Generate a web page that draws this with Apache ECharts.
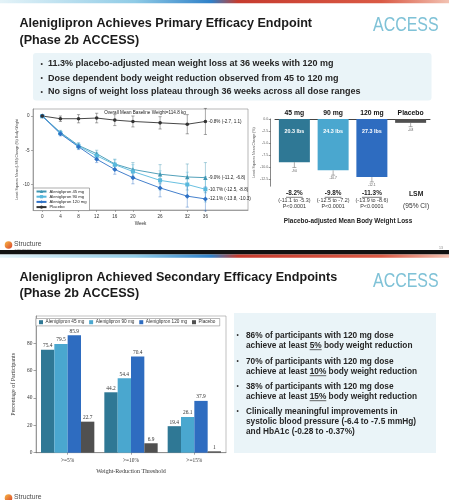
<!DOCTYPE html>
<html>
<head>
<meta charset="utf-8">
<script src="https://cdn.jsdelivr.net/npm/echarts@6/dist/echarts.min.js"></script>
<style>
  html, body { margin: 0; padding: 0; background: #fff; }
  #chart { width: 449px; height: 500px; }
</style>
</head>
<body>
<div id="chart"></div>
<script>
// slide 1, left: LSM % change in body weight over time
const weeks = [0, 4, 8, 12, 16, 20, 26, 32, 36];
const weekTicks = [0, 4, 8, 12, 16, 20, 26, 32, 36];
const doseNames = ['Aleniglipron 45 mg', 'Aleniglipron 90 mg', 'Aleniglipron 120 mg', 'Placebo'];
const change45 = [0, -2.4, -4.3, -5.5, -7.0, -7.8, -8.5, -8.9, -9.0];
const change90 = [0, -2.5, -4.4, -5.8, -7.1, -8.1, -9.4, -10.0, -10.7];
const change120 = [0, -2.6, -4.5, -6.3, -7.8, -9.0, -10.5, -11.7, -12.1];
const changePbo = [0, -0.4, -0.4, -0.3, -0.6, -0.8, -1.0, -1.2, -0.8];
const err45 = [0, 0.3, 0.4, 0.5, 0.7, 1.0, 1.4, 1.9, 2.2];
const err90 = [0, 0.3, 0.4, 0.5, 0.7, 1.0, 1.4, 1.8, 1.85];
const err120 = [0, 0.3, 0.4, 0.5, 0.7, 0.9, 1.3, 1.6, 1.75];
const errPbo = [0, 0.4, 0.6, 0.7, 0.8, 0.8, 0.9, 1.4, 1.9];
const endLabels = ['-9.0% (-11.2, -6.8)', '-10.7% (-12.5, -8.8)', '-12.1% (-13.8, -10.3)', '-0.8% (-2.7, 1.1)'];
const changeTicks = [0, -5, -10];

// slide 1, right: LSM at week 36
const lsmGroups = ['45 mg', '90 mg', '120 mg', 'Placebo'];
const lsmValues = [-9.0, -10.7, -12.1, -0.8];
const lsmWhiskerLow = [-10.1, -11.7, -13.1, -1.6];
const lsmText = ['-9.0', '-10.7', '-12.1', '-0.8'];
const lsmLbs = ['20.3 lbs', '24.3 lbs', '27.3 lbs', ''];
const adjDiff = ['-8.2%', '-9.8%', '-11.3%', ''];
const adjCI = ['(-11.1 to -5.3)', '(-12.5 to -7.2)', '(-13.9 to -8.6)', ''];
const adjP = ['P<0.0001', 'P<0.0001', 'P<0.0001', ''];
const lsmTicks = [0, -2.5, -5, -7.5, -10, -12.5];

// slide 2: responders
const thresholds = ['>=5%', '>=10%', '>=15%'];
const resp45 = [75.4, 44.2, 19.4];
const resp90 = [79.5, 54.4, 26.1];
const resp120 = [85.9, 70.4, 37.9];
const respPbo = [22.7, 6.9, 1];
const respTicks = [0, 20, 40, 60, 80];

const SANS = '"Liberation Sans", Arial, sans-serif';
const SERIF = '"Liberation Serif", "Times New Roman", serif';
const C45 = '#2f7895', C90 = '#4aa7cf', C120 = '#2e6cc0', CPBO = '#505050';
const L45 = '#3f96b2', L90 = '#58b9dd', L120 = '#2f72c6', LPBO = '#333333';

const chart = echarts.init(document.getElementById('chart'));

function errBars(name, values, half, color) {
  return {
    type: 'custom',
    name,
    xAxisIndex: 0,
    yAxisIndex: 0,
    z: 3,
    silent: true,
    data: weeks.map((w, i) => [w, values[i] - half[i], values[i] + half[i]]),
    encode: { x: 0, y: [1, 2] },
    renderItem: (params, api) => {
      const lo = api.coord([api.value(0), api.value(1)]);
      const hi = api.coord([api.value(0), api.value(2)]);
      const st = { stroke: color, lineWidth: 0.6, opacity: 0.7 };
      return {
        type: 'group',
        children: [
          { type: 'line', shape: { x1: lo[0], y1: lo[1], x2: hi[0], y2: hi[1] }, style: st },
          { type: 'line', shape: { x1: lo[0] - 1.6, y1: lo[1], x2: lo[0] + 1.6, y2: lo[1] }, style: st },
          { type: 'line', shape: { x1: hi[0] - 1.6, y1: hi[1], x2: hi[0] + 1.6, y2: hi[1] }, style: st }
        ]
      };
    }
  };
}

function trend(name, values, color, symbol, size, endLabel) {
  return {
    type: 'line',
    name,
    xAxisIndex: 0,
    yAxisIndex: 0,
    z: 4,
    data: weeks.map((w, i) => [w, values[i]]),
    symbol,
    symbolSize: size,
    showAllSymbol: true,
    lineStyle: { color, width: 0.9 },
    itemStyle: { color },
    endLabel: { show: true, formatter: endLabel, fontSize: 4.6, color: '#222', distance: 3, fontFamily: SANS },
    emphasis: { disabled: true }
  };
}

function respBar(name, data, color) {
  return {
    type: 'bar',
    name,
    xAxisIndex: 3,
    yAxisIndex: 2,
    data,
    barGap: '0%',
    barCategoryGap: '15.8%',
    itemStyle: { color },
    label: { show: true, position: 'top', distance: 1.5, fontFamily: SERIF, fontSize: 5.4, color: '#333' },
    emphasis: { disabled: true }
  };
}

const measureCtx = document.createElement('canvas').getContext('2d');
function textWidth(str, font) {
  measureCtx.font = font;
  return measureCtx.measureText(str).width;
}

function txt(id, x, y, text, font, fill, align) {
  return {
    type: 'text', id, x, y, silent: true,
    style: { text, font, fill, align: align || 'left', verticalAlign: 'middle', textAlign: align || 'left', textVerticalAlign: 'middle' }
  };
}

function topBar(id, y) {
  return {
    type: 'rect', id, silent: true,
    shape: { x: 0, y, width: 449, height: 3.2 },
    style: {
      fill: new echarts.graphic.LinearGradient(0, 0, 1, 0, [
        { offset: 0, color: '#e4f3f8' },
        { offset: 0.3, color: '#8fcbe6' },
        { offset: 0.47, color: '#2f80c8' },
        { offset: 0.53, color: '#c63b2e' },
        { offset: 0.85, color: '#da5a45' },
        { offset: 1, color: '#f2c2b2' }
      ])
    }
  };
}

function logo(prefix, y) {
  return [
    {
      type: 'circle', id: prefix + 'c', silent: true,
      shape: { cx: 8.5, cy: y, r: 3.8 },
      style: {
        fill: new echarts.graphic.LinearGradient(0, 0, 1, 1, [
          { offset: 0, color: '#f7b844' },
          { offset: 1, color: '#d9432c' }
        ])
      }
    },
    txt(prefix + 't', 14, y - 0.8, 'Structure', '6.8px ' + SANS, '#4d4d4d'),
    txt(prefix + 's', 14.5, y + 4, 'THERAPEUTICS', '2.2px ' + SANS, '#777')
  ];
}

function buildGraphic(centers) {
  const g = [];
  const titleFont = 'bold 12.6px ' + SANS;
  const accessFont = '21px ' + SANS;

  // slide 1
  g.push(topBar('bar1', 0));
  g.push(txt('t1a', 19.5, 24, 'Aleniglipron Achieves Primary Efficacy Endpoint', titleFont, '#1b1b1b'));
  g.push(txt('t1b', 19.5, 40.5, '(Phase 2b ACCESS)', titleFont, '#1b1b1b'));
  g.push(Object.assign(txt('acc1', 373, 25.5, 'ACCESS', accessFont, '#7fc2d7'), { scaleX: 0.76 }));
  g.push({ type: 'rect', id: 'box1', silent: true, shape: { x: 33, y: 53, width: 398.5, height: 47.5, r: 3 }, style: { fill: '#eaf4f8' } });
  const b1 = [
    '11.3% placebo-adjusted mean weight loss at 36 weeks with 120 mg',
    'Dose dependent body weight reduction observed from 45 to 120 mg',
    'No signs of weight loss plateau through 36 weeks across all dose ranges'
  ];
  [64, 78.5, 92].forEach((y, i) => {
    g.push(txt('b1d' + i, 40.5, y, '•', '7px ' + SANS, '#333'));
    g.push(txt('b1t' + i, 48, y, b1[i], 'bold 9px ' + SANS, '#262626'));
  });
  g.push(txt('ow', 145, 113, 'Overall Mean Baseline Weight=114.8 kg', '4.6px ' + SANS, '#222', 'center'));
  g.push(txt('pl', 348, 221.7, 'Placebo-adjusted Mean Body Weight Loss', 'bold 6.4px ' + SANS, '#222', 'center'));
  g.push(...logo('lg1', 245));
  g.push(txt('pg1', 441, 248, '13', '3.5px ' + SANS, '#888', 'center'));

  // underline the placebo-adjusted differences
  const dFont = 'bold 6.4px ' + SANS;
  adjDiff.forEach((d, i) => {
    if (!d || !centers) return;
    const w = textWidth(d, dFont);
    g.push({ type: 'line', id: 'ul' + i, silent: true, shape: { x1: centers[i] - w / 2, y1: 197.3, x2: centers[i] + w / 2, y2: 197.3 }, style: { stroke: '#222', lineWidth: 0.6 } });
  });

  // separator
  g.push({ type: 'rect', id: 'sep', silent: true, shape: { x: 0, y: 250, width: 449, height: 4.5 }, style: { fill: '#111' } });

  // slide 2
  g.push(topBar('bar2', 254.5));
  g.push(txt('t2a', 19.5, 278, 'Aleniglipron Achieved Secondary Efficacy Endpoints', titleFont, '#1b1b1b'));
  g.push(txt('t2b', 19.5, 293.5, '(Phase 2b ACCESS)', titleFont, '#1b1b1b'));
  g.push(Object.assign(txt('acc2', 373, 281.5, 'ACCESS', accessFont, '#7fc2d7'), { scaleX: 0.76 }));
  g.push({ type: 'rect', id: 'box2', silent: true, shape: { x: 234, y: 313, width: 202, height: 140 }, style: { fill: '#eaf4f8' } });
  const bFont = 'bold 8.3px ' + SANS;
  const bullets2 = [
    { y: 335.7, lines: ['86% of participants with 120 mg dose', ['achieve at least ', '5%', ' body weight reduction']] },
    { y: 361.7, lines: ['70% of participants with 120 mg dose', ['achieve at least ', '10%', ' body weight reduction']] },
    { y: 386.7, lines: ['38% of participants with 120 mg dose', ['achieve at least ', '15%', ' body weight reduction']] },
    { y: 411.7, lines: ['Clinically meaningful improvements in', 'systolic blood pressure (-6.4 to -7.5 mmHg)', 'and HbA1c (-0.28 to -0.37%)'] }
  ];
  bullets2.forEach((b, i) => {
    g.push(txt('b2d' + i, 236.5, b.y, '•', '6.5px ' + SANS, '#333'));
    b.lines.forEach((line, j) => {
      const y = b.y + j * 10;
      if (Array.isArray(line)) {
        const full = line.join('');
        g.push(txt('b2t' + i + '_' + j, 246, y, full, bFont, '#262626'));
        const x0 = 246 + textWidth(line[0], bFont);
        const w = textWidth(line[1], bFont);
        g.push({ type: 'line', id: 'b2u' + i, silent: true, shape: { x1: x0, y1: y + 4, x2: x0 + w, y2: y + 4 }, style: { stroke: '#262626', lineWidth: 0.7 } });
      } else {
        g.push(txt('b2t' + i + '_' + j, 246, y, line, bFont, '#262626'));
      }
    });
  });
  g.push(...logo('lg2', 498));
  return g;
}

const option = {
  animation: false,
  backgroundColor: '#fff',
  textStyle: { fontFamily: SANS },
  grid: [
    { left: 33, top: 109, width: 215, height: 101, show: true, borderColor: '#888', borderWidth: 0.6, containLabel: false },
    { left: 275, top: 119, width: 155, height: 67.2, containLabel: false },
    { left: 36, top: 316, width: 190, height: 136.7, show: true, borderColor: '#999', borderWidth: 0.6, containLabel: false }
  ],
  legend: [
    {
      data: doseNames,
      orient: 'vertical',
      left: 33.5,
      top: 188,
      itemWidth: 10,
      itemHeight: 4,
      itemGap: 1.2,
      padding: [1.5, 3, 1.5, 2],
      borderColor: '#777',
      borderWidth: 0.6,
      backgroundColor: '#fff',
      selectedMode: false,
      textStyle: { fontSize: 4.2, color: '#222', padding: [0, 0, 0, -2] }
    },
    {
      data: doseNames.map(n => n + ' '),
      orient: 'horizontal',
      left: 36,
      top: 318.5,
      icon: 'rect',
      itemWidth: 4,
      itemHeight: 4,
      itemGap: 3.5,
      padding: [1.2, 3],
      borderColor: '#888',
      borderWidth: 0.6,
      backgroundColor: '#fff',
      selectedMode: false,
      textStyle: { fontSize: 4.7, color: '#333', padding: [0, 0, 0, -2.5] }
    }
  ],
  xAxis: [
    {
      gridIndex: 0, type: 'value', min: -2.05, max: 45.4,
      axisLine: { show: true, onZero: false, lineStyle: { color: '#777', width: 0.6 } },
      axisTick: { show: true, customValues: weekTicks, length: 2, lineStyle: { color: '#777', width: 0.6 } },
      axisLabel: { customValues: weekTicks, fontSize: 4.6, color: '#333', margin: 4.5 },
      splitLine: { show: false },
      name: 'Week', nameLocation: 'middle', nameGap: 11.5,
      nameTextStyle: { fontSize: 4.6, color: '#333' }
    },
    {
      gridIndex: 1, type: 'category', data: lsmGroups, position: 'top',
      axisLine: { show: true, onZero: false, lineStyle: { color: '#444', width: 1 } },
      axisTick: { show: false },
      axisLabel: { fontSize: 6.8, fontWeight: 'bold', color: '#111', margin: 2.5 }
    },
    {
      gridIndex: 1, type: 'category', data: lsmGroups, position: 'bottom',
      axisLine: { show: false }, axisTick: { show: false },
      axisLabel: {
        margin: 4,
        interval: 0,
        formatter: (v, i) => adjDiff[i]
          ? '{d|' + adjDiff[i] + '}\n{c|' + adjCI[i] + '}\n{c|' + adjP[i] + '}'
          : '{l|LSM}\n{k|(95% CI)}',
        rich: {
          d: { fontWeight: 'bold', fontSize: 6.4, lineHeight: 7, color: '#222' },
          c: { fontSize: 5.4, lineHeight: 6.5, color: '#333' },
          l: { fontWeight: 'bold', fontSize: 6.8, lineHeight: 8, color: '#222', padding: [0, 0, 0, 11] },
          k: { fontSize: 6.6, lineHeight: 15, color: '#333', padding: [0, 0, 0, 11] }
        }
      }
    },
    {
      gridIndex: 2, type: 'category', data: thresholds,
      axisLine: { show: true, lineStyle: { color: '#666', width: 0.6 } },
      axisTick: { show: true, alignWithLabel: true, length: 2, lineStyle: { color: '#666', width: 0.6 } },
      axisLabel: { fontFamily: SERIF, fontSize: 5.4, color: '#333', margin: 5 },
      name: 'Weight-Reduction Threshold', nameLocation: 'middle', nameGap: 16,
      nameTextStyle: { fontFamily: SERIF, fontSize: 6, color: '#333' }
    }
  ],
  yAxis: [
    {
      gridIndex: 0, type: 'value', min: -13.72, max: 1.02,
      axisLine: { show: true, onZero: false, lineStyle: { color: '#777', width: 0.6 } },
      axisTick: { show: true, customValues: changeTicks, length: 2, lineStyle: { color: '#777', width: 0.6 } },
      axisLabel: { customValues: changeTicks, fontSize: 4.6, color: '#333', margin: 3.5 },
      splitLine: { show: false },
      name: 'Least Squares Mean (LSM) Change (%) Body Weight', nameLocation: 'middle', nameGap: 14,
      nameTextStyle: { fontSize: 3.4, color: '#444' }
    },
    {
      gridIndex: 1, type: 'value', min: -14, max: 0, offset: 4.3,
      axisLine: { show: true, onZero: false, lineStyle: { color: '#555', width: 0.7 } },
      axisTick: { show: true, customValues: lsmTicks, length: 2, lineStyle: { color: '#555', width: 0.6 } },
      axisLabel: { customValues: lsmTicks, formatter: v => v.toFixed(1), fontSize: 3.6, color: '#666', margin: 2.5 },
      splitLine: { show: false },
      name: 'Least Squares Mean Change (%)', nameLocation: 'middle', nameGap: 15,
      nameTextStyle: { fontSize: 3.4, color: '#555' }
    },
    {
      gridIndex: 2, type: 'value', min: 0, max: 100,
      axisLine: { show: true, lineStyle: { color: '#666', width: 0.6 } },
      axisTick: { show: true, customValues: respTicks, length: 2.5, lineStyle: { color: '#666', width: 0.6 } },
      axisLabel: { customValues: respTicks, fontFamily: SERIF, fontSize: 5.4, color: '#333', margin: 3.5 },
      splitLine: { show: false },
      name: 'Percentage of Participants', nameLocation: 'middle', nameGap: 20,
      nameTextStyle: { fontFamily: SERIF, fontSize: 6, color: '#333' }
    }
  ],
  series: [
    errBars('e45', change45, err45, L45),
    errBars('e90', change90, err90, L90),
    errBars('e120', change120, err120, L120),
    errBars('ePbo', changePbo, errPbo, LPBO),
    trend(doseNames[0], change45, L45, 'triangle', 4.5, endLabels[0]),
    trend(doseNames[1], change90, L90, 'rect', 4, endLabels[1]),
    trend(doseNames[2], change120, L120, 'diamond', 5, endLabels[2]),
    trend(doseNames[3], changePbo, LPBO, 'circle', 3.6, endLabels[3]),
    {
      type: 'bar',
      name: 'lsm',
      xAxisIndex: 1,
      yAxisIndex: 1,
      barWidth: 31,
      data: lsmValues.map((v, i) => ({ value: v, itemStyle: { color: [C45, C90, C120, CPBO][i] } })),
      label: {
        show: true, position: 'insideTop', distance: 10,
        formatter: p => lsmLbs[p.dataIndex],
        color: '#fff', fontWeight: 'bold', fontSize: 5.4
      },
      emphasis: { disabled: true }
    },
    {
      type: 'custom',
      name: 'lsmWhisker',
      xAxisIndex: 1,
      yAxisIndex: 1,
      z: 5,
      silent: true,
      data: lsmValues.map((v, i) => [i, v, lsmWhiskerLow[i]]),
      renderItem: (params, api) => {
        const top = api.coord([api.value(0), api.value(1)]);
        const low = api.coord([api.value(0), api.value(2)]);
        const st = { stroke: '#777', lineWidth: 0.6 };
        return {
          type: 'group',
          children: [
            { type: 'line', shape: { x1: top[0], y1: top[1], x2: low[0], y2: low[1] }, style: st },
            { type: 'line', shape: { x1: low[0] - 2, y1: low[1], x2: low[0] + 2, y2: low[1] }, style: st },
            { type: 'text', x: low[0], y: low[1] + 3.2, style: { text: lsmText[params.dataIndex], fontSize: 3.2, fill: '#555', align: 'center', verticalAlign: 'middle' } }
          ]
        };
      }
    },
    respBar(doseNames[0] + ' ', resp45, C45),
    respBar(doseNames[1] + ' ', resp90, C90),
    respBar(doseNames[2] + ' ', resp120, C120),
    respBar(doseNames[3] + ' ', respPbo, CPBO)
  ],
  graphic: buildGraphic(null)
};

chart.setOption(option);
const centers = lsmGroups.map((c, i) => chart.convertToPixel({ xAxisIndex: 2 }, i));
chart.setOption({ graphic: buildGraphic(centers) });
</script>
</body>
</html>
